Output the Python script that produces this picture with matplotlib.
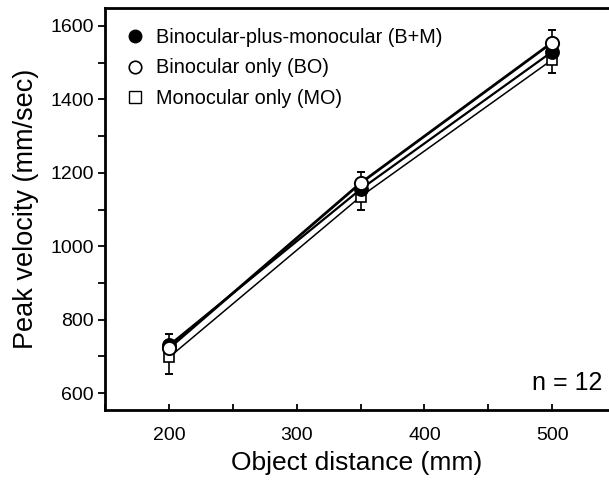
import matplotlib
matplotlib.use("Agg")
import matplotlib.pyplot as plt
from matplotlib.ticker import MultipleLocator
from matplotlib.lines import Line2D

plt.rcParams['font.family'] = ['Liberation Sans', 'DejaVu Sans']

distance = [200, 350, 500]
bm = [730, 1155, 1530]
bo = [722, 1172, 1555]
mo = [697, 1135, 1508]
bo_err_up = [39, 30, 34]
mo_err_down = [45, 36, 36]
labels = ["Binocular-plus-monocular (B+M)", "Binocular only (BO)", "Monocular only (MO)"]

fig = plt.figure(figsize=(6.09, 4.82), dpi=100)
ax = fig.add_axes([0.1724, 0.1494, 0.8276, 0.834])

# error bars (one-directional)
ax.errorbar(distance, bo, yerr=[[0, 0, 0], bo_err_up], fmt='none', ecolor='black',
            elinewidth=1.2, capsize=3, capthick=1.4, zorder=2)
ax.errorbar(distance, mo, yerr=[mo_err_down, [0, 0, 0]], fmt='none', ecolor='black',
            elinewidth=1.2, capsize=3, capthick=1.4, zorder=2)

# lines
ax.plot(distance, bo, color='black', lw=2.0, zorder=3)
ax.plot(distance, bm, color='black', lw=1.6, zorder=3)
ax.plot(distance, mo, color='black', lw=1.1, zorder=3)

# markers
ax.plot(distance, mo, ls='none', marker='s', ms=7.5, mfc='white', mec='black', mew=1.2, zorder=4)
ax.plot(distance, bm, ls='none', marker='o', ms=9.5, mfc='black', mec='black', mew=1.2, zorder=5)
ax.plot(distance, bo, ls='none', marker='o', ms=9.5, mfc='white', mec='black', mew=1.4, zorder=6)

ax.set_xlim(150, 544.5)
ax.set_ylim(554, 1649)
ax.xaxis.set_major_locator(MultipleLocator(100))
ax.xaxis.set_minor_locator(MultipleLocator(50))
ax.yaxis.set_major_locator(MultipleLocator(200))
ax.yaxis.set_minor_locator(MultipleLocator(100))
ax.tick_params(axis='x', which='both', direction='in', length=4, width=1.3, labelsize=14, pad=12)
ax.tick_params(axis='y', which='both', direction='out', length=5, width=1.3, labelsize=14, pad=3)
ax.spines['right'].set_visible(False)
for s in ['left', 'bottom', 'top']:
    ax.spines[s].set_linewidth(2)

ax.set_xlabel("Object distance (mm)", fontsize=19, labelpad=5)
ax.set_ylabel("Peak velocity (mm/sec)", fontsize=19.5, labelpad=8)

handles = [
    Line2D([], [], ls='none', marker='o', ms=9, mfc='black', mec='black'),
    Line2D([], [], ls='none', marker='o', ms=9, mfc='white', mec='black', mew=1.2),
    Line2D([], [], ls='none', marker='s', ms=8, mfc='white', mec='black', mew=1.0),
]
ax.legend(handles, labels, loc='upper left', bbox_to_anchor=(0.012, 0.985), frameon=False,
          fontsize=14.3, handlelength=1.0, handletextpad=0.55, labelspacing=0.58,
          borderaxespad=0.3)

ax.text(0.986, 0.067, "n = 12", transform=ax.transAxes, fontsize=18, ha='right', va='center')

fig.savefig("out.png", dpi=100)
